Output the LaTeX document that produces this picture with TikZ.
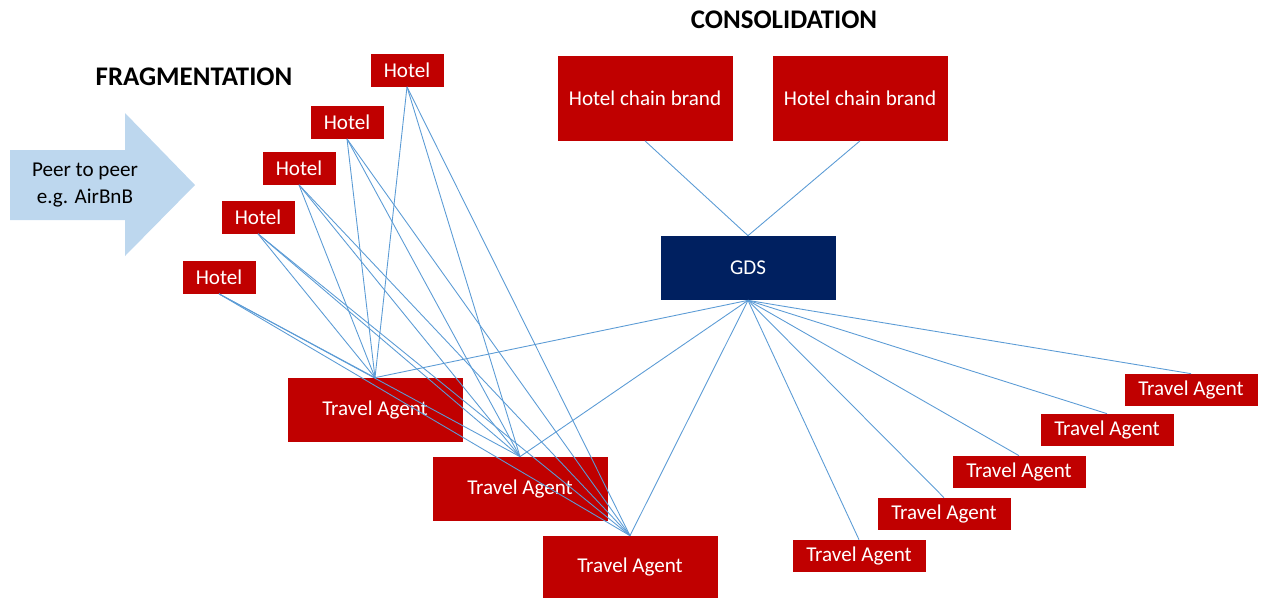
\documentclass[tikz,border=0pt]{standalone}
\usepackage{fontspec}
\setmainfont{Carlito}
\usepackage{tikz}
\usetikzlibrary{positioning}

\definecolor{boxred}{HTML}{C00000}
\definecolor{gdsblue}{HTML}{002060}
\definecolor{linkblue}{HTML}{5B9BD5}
\definecolor{arrowblue}{HTML}{BDD7EE}

\tikzset{
	redbox/.style={fill=boxred, text=white, inner sep=0pt, font=\fontsize{12}{14}\selectfont},
	hotelbox/.style={redbox, minimum width=14.6mm, minimum height=6.6mm},
	agentbox/.style={redbox, minimum width=35mm, minimum height=12.8mm},
	smallagent/.style={redbox, minimum width=26.6mm, minimum height=6.4mm},
	chainbox/.style={redbox, minimum width=35mm, minimum height=17mm},
	link/.style={draw=linkblue, line width=0.5pt},
	heading/.style={font=\fontsize{15.3}{18}\selectfont\bfseries}
}

\begin{document}
\begin{tikzpicture}[x=0.2mm, y=-0.2mm]
		\useasboundingbox (0, 0) rectangle (1261, 599);
		
		\node[heading] (frag) at (194, 77) {FRAGMENTATION};
		\node[heading] (cons) at (784, 20) {CONSOLIDATION};
		
		\fill[arrowblue] (10, 150) -- (125, 150) -- (125, 113) -- (195, 185) -- (125, 256) -- (125, 220) -- (10, 220) -- cycle;
		\node[align=center, font=\fontsize{12}{15}\selectfont] (p2p) at (85, 185) {Peer to peer\\e.g. AirBnB};
		
		\node[hotelbox] (h1) at (219, 277) {Hotel};
		\node[hotelbox] (h2) at (258, 217) {Hotel};
		\node[hotelbox] (h3) at (299, 168) {Hotel};
		\node[hotelbox] (h4) at (347, 122) {Hotel};
		\node[hotelbox] (h5) at (407, 70) {Hotel};
		
		\node[chainbox] (cb1) at (645, 98) {Hotel chain brand};
		\node[chainbox] (cb2) at (860, 98) {Hotel chain brand};
		
		\node[redbox, fill=gdsblue, minimum width=35mm, minimum height=12.8mm] (gds) at (748, 268) {GDS};
		
		\node[agentbox] (ta1) at (375, 410) {Travel Agent};
		\node[agentbox] (ta2) at (520, 489) {Travel Agent};
		\node[agentbox, minimum height=12.4mm] (ta3) at (630, 567) {Travel Agent};
		
		\node[smallagent] (tb1) at (859, 556) {Travel Agent};
		\node[smallagent] (tb2) at (944, 514) {Travel Agent};
		\node[smallagent] (tb3) at (1019, 472) {Travel Agent};
		\node[smallagent] (tb4) at (1107, 430) {Travel Agent};
		\node[smallagent] (tb5) at (1191, 390) {Travel Agent};
		
		\draw [link] (h1.south) -- (ta1.north);
		\draw [link] (h1.south) -- (ta2.north);
		\draw [link] (h1.south) -- (ta3.north);
		\draw [link] (h2.south) -- (ta1.north);
		\draw [link] (h2.south) -- (ta2.north);
		\draw [link] (h2.south) -- (ta3.north);
		\draw [link] (h3.south) -- (ta1.north);
		\draw [link] (h3.south) -- (ta2.north);
		\draw [link] (h3.south) -- (ta3.north);
		\draw [link] (h4.south) -- (ta1.north);
		\draw [link] (h4.south) -- (ta2.north);
		\draw [link] (h4.south) -- (ta3.north);
		\draw [link] (h5.south) -- (ta1.north);
		\draw [link] (h5.south) -- (ta2.north);
		\draw [link] (h5.south) -- (ta3.north);
		
		\draw [link] (cb1.south) -- (gds.north);
		\draw [link] (cb2.south) -- (gds.north);
		
		\draw [link] (gds.south) -- (ta1.north);
		\draw [link] (gds.south) -- (ta2.north);
		\draw [link] (gds.south) -- (ta3.north);
		\draw [link] (gds.south) -- (tb1.north);
		\draw [link] (gds.south) -- (tb2.north);
		\draw [link] (gds.south) -- (tb3.north);
		\draw [link] (gds.south) -- (tb4.north);
		\draw [link] (gds.south) -- (tb5.north);
		
	\end{tikzpicture}
\end{document}
